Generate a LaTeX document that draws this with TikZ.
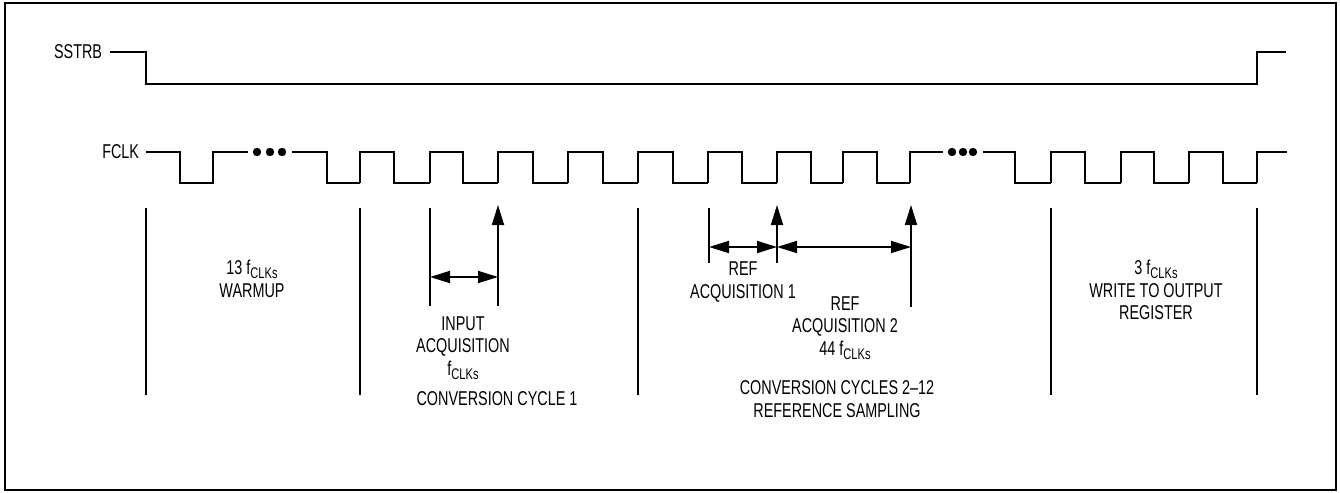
\documentclass[tikz,border=0pt]{standalone}
\usepackage{fontspec}
\setmainfont{Liberation Sans}[FakeStretch=0.72]
\usetikzlibrary{arrows.meta}
\newcommand{\fclks}{f\raisebox{-0.35ex}{\fontsize{7.7}{7.7}\selectfont CLKs}}

\begin{document}
\begin{tikzpicture}[x=0.5pt,y=-0.5pt,line width=0.9pt,
  lbl/.style={font=\fontsize{10}{11.2}\selectfont,align=center,inner sep=0pt}]
	\tikzset{>={Triangle[length=10pt,width=6pt]}}
	\useasboundingbox (0,0) rectangle (1340,493);
	\draw (5,3) rectangle (1336,490);

	\pgfmathsetmacro{\shi}{52}
	\pgfmathsetmacro{\slo}{84}
	\pgfmathsetmacro{\hi}{152}
	\pgfmathsetmacro{\lo}{183}
	\pgfmathsetmacro{\mtop}{208}
	\pgfmathsetmacro{\mbot}{395}

	% SSTRB
	\node[lbl,anchor=east] (sstrb) at (103,\shi) {SSTRB};
	\draw ([xshift=3.5pt]sstrb.east) -- (146,\shi) -- (146,\slo) -- (1257,\slo) -- (1257,\shi) -- (1286,\shi);

	% FCLK
	\node[lbl,anchor=east] (fclk) at (140,\hi) {FCLK};
	\draw ([xshift=3pt]fclk.east) -- (180,\hi) -- (180,\lo) -- (213,\lo) -- (213,\hi) -- (248,\hi);
	\foreach \x in {257,270,282} \fill (\x,\hi) circle (2.1pt);
	\draw (292,\hi) -- (327,\hi) -- (327,\lo) -- (360,\lo);
	\foreach \r/\f/\n in {360/394/430,430/463/498,498/533/568,568/603/638,638/673/708,708/742/777,777/811/843,843/877/910}
		\draw (\r,\lo) -- (\r,\hi) -- (\f,\hi) -- (\f,\lo) -- (\n,\lo);
	\draw (910,\lo) -- (910,\hi) -- (943,\hi);
	\foreach \x in {952,963,973} \fill (\x,\hi) circle (2.1pt);
	\draw (983,\hi) -- (1015,\hi) -- (1015,\lo) -- (1051,\lo);
	\foreach \r/\f/\n in {1051/1085/1121,1121/1154/1189,1189/1223/1257}
		\draw (\r,\lo) -- (\r,\hi) -- (\f,\hi) -- (\f,\lo) -- (\n,\lo);
	\draw (1257,\lo) -- (1257,\hi) -- (1287,\hi);

	% phase markers
	\foreach \x in {146,360,638,1051,1257} \draw (\x,\mtop) -- (\x,\mbot);

	\coordinate (inA) at (430,\mtop);
	\coordinate (inB) at (430,306);
	\coordinate (inC) at (498,306);
	\coordinate (inD) at (498,205);
	\draw (inA) -- (inB);
	\draw[->] (inC) -- (inD);
	\draw[<->] (430,277) -- (498,277);

	\coordinate (rfA) at (709,\mtop);
	\coordinate (rfB) at (709,263);
	\coordinate (rfC) at (777,263);
	\coordinate (rfD) at (777,205);
	\coordinate (rfE) at (911,307);
	\coordinate (rfF) at (911,205);
	\draw (rfA) -- (rfB);
	\draw[->] (rfC) -- (rfD);
	\draw[->] (rfE) -- (rfF);
	\draw[<->] (709,247) -- (777,247);
	\draw[<->] (777,247) -- (911,247);

	% labels
	\node[lbl] (warm) at (252,279) {13 \fclks\\WARMUP};
	\node[lbl] (inacq) at (463,348) {INPUT\\ACQUISITION\\\fclks};
	\node[lbl] (cyc1) at (497,399) {CONVERSION CYCLE 1};
	\node[lbl] (ref1) at (743,282) {REF\\ACQUISITION 1};
	\node[lbl] (ref2) at (845,328) {REF\\ACQUISITION 2\\44 \fclks};
	\node[lbl] (cyc2) at (837,399) {CONVERSION CYCLES 2--12\\REFERENCE SAMPLING};
	\node[lbl] (wr) at (1156,290) {3 \fclks\\WRITE TO OUTPUT\\REGISTER};
\end{tikzpicture}
\end{document}
